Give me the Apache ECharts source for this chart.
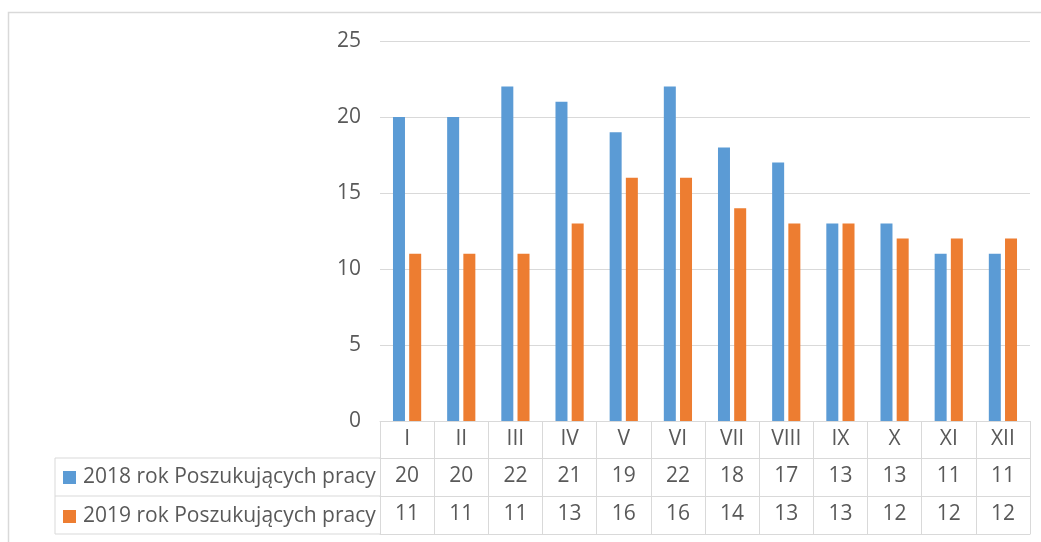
<!DOCTYPE html>
<html><head><meta charset="utf-8">
<script src="https://cdn.jsdelivr.net/npm/echarts@6/dist/echarts.min.js"></script>
<style>html,body{margin:0;padding:0;background:#fff}#c{width:1041px;height:542px}</style>
</head><body><div id="c"></div>
<script>
const categories = ['I','II','III','IV','V','VI','VII','VIII','IX','X','XI','XII'];
const seriesNames = ['2018 rok Poszukujących pracy', '2019 rok Poszukujących pracy'];
const values2018 = [20,20,22,21,19,22,18,17,13,13,11,11];
const values2019 = [11,11,11,13,16,16,14,13,13,12,12,12];
const yTicks = [0,5,10,15,20,25];

const FONT = 'Open Sans';
const FS = 21;
const TXT = '#595959';
const LINE = '#D9D9D9';
const chart = echarts.init(document.getElementById('c'), null, {renderer:'canvas'});
const lbl = {fontFamily: FONT, fontSize: FS, color: TXT};
const baseX = {type:'category', data: categories, position:'bottom', gridIndex:0,
  axisLine:{show:true, lineStyle:{color:LINE, width:1}}, axisTick:{show:false}, splitLine:{show:false}};
chart.setOption({
  animation:false,
  textStyle:{fontFamily:FONT},
  grid:{left:380, right:11, top:41, bottom:121, containLabel:false},
  legend:{orient:'vertical', left:63, top:467, padding:0, itemWidth:13, itemHeight:13, itemGap:18,
    icon:'rect', data: seriesNames,
    textStyle:{fontFamily:FONT, fontSize:FS, color:TXT, padding:[0,0,0,2], lineHeight:21}},
  xAxis:[
    Object.assign({}, baseX, {
      axisTick:{show:true, interval:0, length:113, lineStyle:{color:LINE}},
      axisLabel:Object.assign({margin:8, interval:0}, lbl)}),
    Object.assign({}, baseX, {offset:37,
      axisLabel:Object.assign({margin:8, interval:0, formatter:(v,i)=>String(values2018[i])}, lbl)}),
    Object.assign({}, baseX, {offset:75,
      axisLabel:Object.assign({margin:8, interval:0, formatter:(v,i)=>String(values2019[i])}, lbl)}),
    Object.assign({}, baseX, {offset:113, axisLabel:{show:false}})
  ],
  yAxis:{type:'value', min:yTicks[0], max:yTicks[yTicks.length-1], interval:5,
    axisLine:{show:false}, axisTick:{show:false},
    splitLine:{lineStyle:{color:LINE, width:1}},
    axisLabel:Object.assign({margin:19}, lbl)},
  series:[
    {name:seriesNames[0], type:'bar', data:values2018, barWidth:12, barGap:'35%',
      itemStyle:{color:'#5B9BD5'}},
    {name:seriesNames[1], type:'bar', data:values2019, barWidth:12, barGap:'35%',
      itemStyle:{color:'#ED7D31'}}
  ],
  graphic:[
    {type:'rect', shape:{x:8.5, y:12.5, width:1100, height:600}, style:{fill:null, stroke:LINE, lineWidth:1.5}, silent:true},
    {type:'line', shape:{x1:55, y1:458, x2:380, y2:458}, style:{stroke:LINE, lineWidth:1}},
    {type:'line', shape:{x1:55, y1:496, x2:380, y2:496}, style:{stroke:LINE, lineWidth:1}},
    {type:'line', shape:{x1:55, y1:534, x2:380, y2:534}, style:{stroke:LINE, lineWidth:1}},
    {type:'line', shape:{x1:55, y1:458, x2:55, y2:534}, style:{stroke:LINE, lineWidth:1}}
  ]
});
</script></body></html>
